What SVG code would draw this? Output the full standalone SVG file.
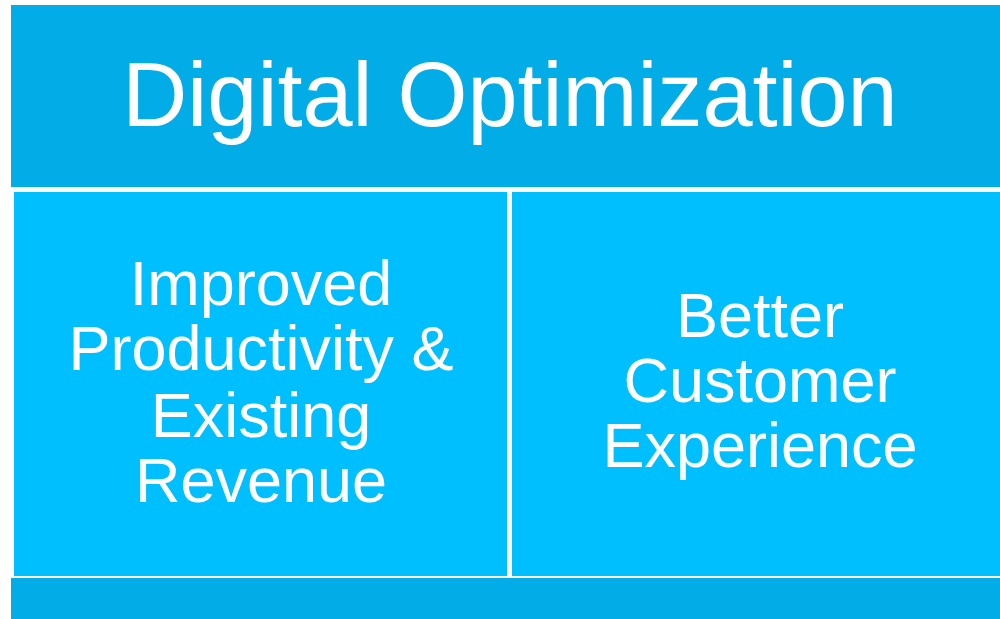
<svg xmlns="http://www.w3.org/2000/svg" width="1000" height="619" viewBox="0 0 1000 619">
<style>
.dark{fill:#02ACE6}
.light{fill:#00BFFF}
.t{font-family:"Liberation Sans",Arial,sans-serif;fill:#fff;text-anchor:middle}
</style>
<rect width="1000" height="619" fill="#fff"/>
<g id="title">
<rect class="dark" x="11" y="5" width="989" height="182"/>
<text class="t" x="510" y="126" font-size="90">Digital Optimization</text>
</g>
<g id="left">
<rect class="light" x="14" y="192" width="493" height="384"/>
<text class="t" font-size="63"><tspan x="261" y="305">Improved</tspan><tspan x="261" y="370">Productivity &amp;</tspan><tspan x="261" y="437">Existing</tspan><tspan x="261" y="502">Revenue</tspan></text>
</g>
<g id="right">
<rect class="light" x="512" y="192" width="488" height="384"/>
<text class="t" font-size="63"><tspan x="760" y="337">Better</tspan><tspan x="760" y="402">Customer</tspan><tspan x="760" y="467">Experience</tspan></text>
</g>
<g id="bottom">
<rect class="dark" x="11" y="578" width="989" height="41"/>
</g>
<g id="connectors"></g>
</svg>
